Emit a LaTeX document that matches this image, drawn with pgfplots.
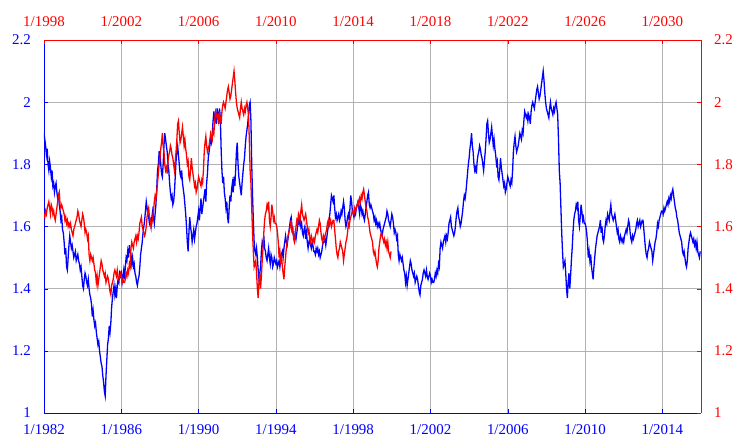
\documentclass[border=0pt]{standalone}
\usepackage{pgfplots}
\usepackage{pgfplotstable}
\pgfplotsset{compat=1.18}
\usepackage{fontspec}
\setmainfont{Liberation Serif}
% GBP/USD, semi-monthly readings, Jan 1982 .. Dec 2015 (index = half-months since 1/1982)
\pgfplotstableread[row sep=\\]{
y\\
1.90\\1.88\\1.86\\1.83\\1.85\\1.80\\1.78\\1.81\\1.79\\1.76\\1.78\\1.73\\1.74\\1.71\\1.73\\1.74\\1.71\\1.69\\1.70\\1.67\\1.65\\1.62\\1.63\\1.59\\
1.58\\1.55\\1.51\\1.53\\1.47\\1.46\\1.50\\1.54\\1.57\\1.55\\1.53\\1.54\\1.52\\1.50\\1.51\\1.52\\1.49\\1.50\\1.51\\1.49\\1.48\\1.46\\1.47\\1.44\\
1.41\\1.40\\1.43\\1.45\\1.44\\1.42\\1.41\\1.43\\1.40\\1.38\\1.37\\1.35\\1.31\\1.33\\1.30\\1.28\\1.29\\1.26\\1.24\\1.22\\1.23\\1.20\\1.18\\1.16\\
1.15\\1.12\\1.10\\1.07\\1.055\\1.12\\1.17\\1.22\\1.24\\1.28\\1.26\\1.29\\1.34\\1.37\\1.39\\1.41\\1.38\\1.40\\1.37\\1.41\\1.43\\1.42\\1.45\\1.44\\
1.45\\1.42\\1.44\\1.46\\1.43\\1.47\\1.50\\1.49\\1.52\\1.50\\1.54\\1.52\\1.51\\1.48\\1.50\\1.47\\1.48\\1.45\\1.44\\1.42\\1.41\\1.43\\1.44\\1.47\\
1.51\\1.53\\1.55\\1.58\\1.60\\1.62\\1.65\\1.68\\1.66\\1.64\\1.63\\1.61\\1.62\\1.60\\1.63\\1.65\\1.63\\1.61\\1.64\\1.67\\1.72\\1.78\\1.80\\1.84\\
1.84\\1.80\\1.77\\1.76\\1.80\\1.86\\1.90\\1.88\\1.86\\1.84\\1.80\\1.78\\1.74\\1.71\\1.69\\1.70\\1.67\\1.68\\1.71\\1.76\\1.81\\1.84\\1.86\\1.83\\
1.80\\1.77\\1.76\\1.78\\1.74\\1.72\\1.70\\1.67\\1.64\\1.60\\1.55\\1.52\\1.58\\1.63\\1.60\\1.58\\1.55\\1.57\\1.59\\1.56\\1.58\\1.60\\1.61\\1.63\\
1.65\\1.62\\1.66\\1.69\\1.64\\1.66\\1.68\\1.70\\1.72\\1.68\\1.74\\1.77\\1.82\\1.84\\1.86\\1.88\\1.87\\1.90\\1.94\\1.97\\1.94\\1.96\\1.93\\1.98\\
1.96\\1.93\\1.98\\1.95\\1.85\\1.78\\1.74\\1.76\\1.71\\1.69\\1.66\\1.68\\1.63\\1.61\\1.66\\1.70\\1.68\\1.72\\1.74\\1.71\\1.76\\1.73\\1.78\\1.84\\
1.87\\1.80\\1.76\\1.74\\1.72\\1.70\\1.74\\1.77\\1.80\\1.82\\1.86\\1.89\\1.91\\1.93\\1.96\\1.99\\2.00\\1.94\\1.80\\1.70\\1.62\\1.55\\1.52\\1.51\\
1.53\\1.50\\1.46\\1.43\\1.45\\1.47\\1.52\\1.55\\1.54\\1.57\\1.53\\1.52\\1.50\\1.49\\1.51\\1.53\\1.50\\1.48\\1.51\\1.50\\1.47\\1.48\\1.50\\1.49\\
1.48\\1.49\\1.47\\1.48\\1.49\\1.47\\1.49\\1.51\\1.52\\1.50\\1.53\\1.55\\1.57\\1.55\\1.54\\1.56\\1.58\\1.60\\1.62\\1.63\\1.60\\1.58\\1.57\\1.56\\
1.58\\1.56\\1.58\\1.60\\1.62\\1.61\\1.63\\1.60\\1.61\\1.58\\1.57\\1.59\\1.60\\1.56\\1.58\\1.55\\1.53\\1.55\\1.56\\1.54\\1.53\\1.55\\1.54\\1.52\\
1.52\\1.51\\1.53\\1.52\\1.53\\1.51\\1.52\\1.50\\1.51\\1.52\\1.54\\1.55\\1.55\\1.56\\1.54\\1.56\\1.58\\1.60\\1.62\\1.64\\1.67\\1.70\\1.69\\1.68\\
1.70\\1.66\\1.63\\1.64\\1.62\\1.63\\1.64\\1.62\\1.63\\1.65\\1.64\\1.66\\1.68\\1.66\\1.62\\1.60\\1.61\\1.63\\1.64\\1.62\\1.66\\1.70\\1.68\\1.65\\
1.64\\1.63\\1.65\\1.64\\1.66\\1.67\\1.68\\1.66\\1.64\\1.67\\1.66\\1.64\\1.65\\1.63\\1.62\\1.64\\1.66\\1.68\\1.70\\1.71\\1.67\\1.66\\1.67\\1.66\\
1.65\\1.64\\1.62\\1.63\\1.61\\1.62\\1.60\\1.61\\1.60\\1.61\\1.59\\1.58\\1.57\\1.59\\1.60\\1.61\\1.62\\1.63\\1.65\\1.64\\1.62\\1.61\\1.60\\1.62\\
1.64\\1.63\\1.61\\1.58\\1.59\\1.58\\1.56\\1.57\\1.51\\1.49\\1.51\\1.50\\1.49\\1.50\\1.48\\1.46\\1.45\\1.42\\1.44\\1.41\\1.43\\1.45\\1.47\\1.49\\
1.48\\1.46\\1.45\\1.44\\1.45\\1.42\\1.43\\1.44\\1.43\\1.41\\1.39\\1.38\\1.41\\1.42\\1.43\\1.45\\1.46\\1.45\\1.44\\1.46\\1.44\\1.43\\1.44\\1.45\\
1.44\\1.42\\1.43\\1.42\\1.42\\1.43\\1.45\\1.44\\1.46\\1.45\\1.48\\1.47\\1.53\\1.55\\1.54\\1.53\\1.55\\1.56\\1.57\\1.55\\1.57\\1.56\\1.58\\1.61\\
1.62\\1.63\\1.60\\1.59\\1.58\\1.57\\1.58\\1.60\\1.63\\1.65\\1.66\\1.63\\1.62\\1.60\\1.61\\1.63\\1.65\\1.68\\1.70\\1.69\\1.71\\1.74\\1.77\\1.80\\
1.82\\1.85\\1.87\\1.90\\1.86\\1.84\\1.80\\1.78\\1.79\\1.77\\1.81\\1.83\\1.84\\1.86\\1.85\\1.83\\1.82\\1.80\\1.78\\1.81\\1.84\\1.88\\1.93\\1.94\\
1.90\\1.87\\1.88\\1.90\\1.92\\1.89\\1.86\\1.88\\1.85\\1.83\\1.80\\1.81\\1.76\\1.75\\1.78\\1.82\\1.79\\1.77\\1.75\\1.73\\1.74\\1.71\\1.72\\1.74\\
1.76\\1.75\\1.74\\1.73\\1.75\\1.74\\1.78\\1.84\\1.87\\1.89\\1.86\\1.84\\1.85\\1.86\\1.88\\1.90\\1.89\\1.88\\1.91\\1.90\\1.94\\1.97\\1.96\\1.95\\
1.96\\1.94\\1.96\\1.95\\1.93\\1.97\\1.99\\2.00\\1.99\\1.98\\2.00\\2.02\\2.04\\2.05\\2.03\\2.01\\2.02\\2.04\\2.06\\2.08\\2.10\\2.07\\2.03\\2.00\\
1.98\\1.97\\1.96\\1.95\\1.98\\2.00\\1.98\\1.97\\1.96\\1.98\\1.97\\1.99\\2.00\\1.98\\1.96\\1.88\\1.78\\1.74\\1.66\\1.58\\1.52\\1.47\\1.48\\1.49\\
1.45\\1.40\\1.37\\1.42\\1.45\\1.40\\1.44\\1.49\\1.53\\1.58\\1.62\\1.64\\1.65\\1.67\\1.66\\1.68\\1.62\\1.60\\1.63\\1.67\\1.65\\1.62\\1.63\\1.61\\
1.61\\1.60\\1.58\\1.55\\1.50\\1.52\\1.49\\1.51\\1.47\\1.45\\1.43\\1.47\\1.50\\1.53\\1.55\\1.57\\1.58\\1.59\\1.60\\1.62\\1.58\\1.60\\1.56\\1.55\\
1.57\\1.60\\1.62\\1.61\\1.64\\1.63\\1.62\\1.65\\1.67\\1.64\\1.63\\1.62\\1.63\\1.64\\1.62\\1.60\\1.58\\1.59\\1.56\\1.55\\1.57\\1.56\\1.55\\1.56\\
1.55\\1.57\\1.58\\1.59\\1.58\\1.60\\1.62\\1.61\\1.58\\1.56\\1.55\\1.57\\1.56\\1.57\\1.58\\1.59\\1.61\\1.62\\1.60\\1.61\\1.62\\1.60\\1.61\\1.62\\
1.62\\1.59\\1.56\\1.53\\1.51\\1.50\\1.52\\1.53\\1.55\\1.54\\1.53\\1.52\\1.49\\1.51\\1.53\\1.55\\1.56\\1.58\\1.61\\1.60\\1.62\\1.63\\1.64\\1.65\\
1.65\\1.64\\1.66\\1.65\\1.66\\1.67\\1.68\\1.67\\1.69\\1.68\\1.70\\1.69\\1.71\\1.72\\1.70\\1.68\\1.66\\1.65\\1.63\\1.62\\1.60\\1.58\\1.57\\1.56\\
1.55\\1.52\\1.51\\1.52\\1.50\\1.48\\1.47\\1.49\\1.53\\1.55\\1.57\\1.58\\1.57\\1.56\\1.55\\1.56\\1.54\\1.55\\1.53\\1.55\\1.52\\1.51\\1.50\\1.52\\
}\gbp
\begin{document}
\begin{tikzpicture}
\pgfplotsset{
  common/.style={
    scale only axis, width=657bp, height=373bp,
    ymin=1, ymax=2.2,
    ytick={1,1.2,1.4,1.6,1.8,2,2.2},
    yticklabels={1,1.2,1.4,1.6,1.8,2,2.2},
    tick align=inside,
    major tick length=4bp,
    ticklabel style={font=\fontsize{15}{18}\selectfont, inner sep=0pt},
  }
}
\begin{axis}[common, name=ax,
  xmin=0, xmax=816,
  axis x line*=bottom, axis y line*=left,
  axis line style={blue, line width=0.7pt},
  xtick={0,96,192,288,384,480,576,672,768},
  xticklabels={1/1982,1/1986,1/1990,1/1994,1/1998,1/2002,1/2006,1/2010,1/2014},
  grid=major, major grid style={gray!60, line width=0.6pt},
  tick style={blue},
  ticklabel style={text=blue},
  xticklabel style={anchor=north, yshift=-11bp},
  yticklabel style={anchor=east, xshift=-13bp},
]
\addplot[blue, line width=1.3pt, mark=none] table[x expr=\coordindex, y=y]{\gbp};
\end{axis}
\begin{axis}[common,
  xmin=384, xmax=1200,
  axis x line*=top, axis y line*=right,
  axis line style={red, line width=0.7pt},
  xtick={384,480,576,672,768,864,960,1056,1152},
  xticklabels={,1/2002,1/2006,1/2010,1/2014,1/2018,1/2022,1/2026,1/2030},
  tick style={red},
  ticklabel style={text=red},
  xticklabel style={anchor=south, yshift=13bp},
  yticklabel style={anchor=west, xshift=13bp},
]
\addplot[red, line width=1.3pt, mark=none, restrict x to domain=384:816] table[x expr=\coordindex, y=y]{\gbp};
\end{axis}
\node[anchor=south, inner sep=0pt, text=red, font=\fontsize{15}{18}\selectfont, yshift=13bp] at (ax.north west) {1/1998};
\path ([xshift=-44bp,yshift=-23bp]ax.south west) rectangle ([xshift=35bp,yshift=40bp]ax.north east);
\end{tikzpicture}
\end{document}
